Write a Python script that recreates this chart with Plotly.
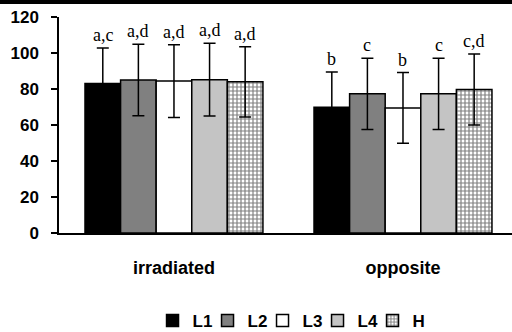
import plotly.graph_objects as go

categories = ["irradiated", "opposite"]
series_names = ["L1", "L2", "L3", "L4", "H"]
means = {
    "L1": [83.0, 69.8],
    "L2": [85.0, 77.3],
    "L3": [84.4, 69.5],
    "L4": [85.2, 77.3],
    "H":  [84.0, 79.7],
}
sds = {
    "L1": [19.8, 19.7],
    "L2": [19.8, 19.8],
    "L3": [20.2, 19.6],
    "L4": [20.2, 19.8],
    "H":  [19.5, 19.7],
}
sig_labels = {
    "L1": ["a,c", "b"],
    "L2": ["a,d", "c"],
    "L3": ["a,d", "b"],
    "L4": ["a,d", "c"],
    "H":  ["a,d", "c,d"],
}
y_ticks = [0, 20, 40, 60, 80, 100, 120]

colors = {"L1": "#000000", "L2": "#808080", "L3": "#ffffff", "L4": "#c4c4c4", "H": "#ffffff"}

fig = go.Figure()
for name in series_names:
    marker = dict(color=colors[name], line=dict(color="black", width=1.5))
    if name == "H":
        marker["pattern"] = dict(shape="+", fgcolor="black", bgcolor="white", size=4, solidity=0.5)
    fig.add_trace(go.Bar(
        name=name, x=[0, 1], y=means[name],
        marker=marker,
        error_y=dict(type="data", array=sds[name], color="black", thickness=1.5, width=6),
    ))

bargap = 0.223
n = len(series_names)
bw = (1 - bargap) / n
for i, name in enumerate(series_names):
    for c in range(len(categories)):
        fig.add_annotation(
            x=c + (i - (n - 1) / 2) * bw, y=means[name][c] + sds[name][c],
            xref="x", yref="y", text=sig_labels[name][c], showarrow=False,
            yanchor="bottom", yshift=1,
            font=dict(family="Liberation Serif", size=18, color="black"),
        )

fig.add_shape(type="rect", xref="paper", yref="paper", x0=-0.2, x1=1.05,
              y0=1.060, y1=1.10, fillcolor="black", line=dict(width=0))

fig.update_layout(
    width=512, height=332,
    margin=dict(l=59, r=0, t=17, b=99, autoexpand=False),
    paper_bgcolor="white", plot_bgcolor="white",
    barmode="group", bargap=bargap, bargroupgap=0,
    showlegend=True,
    legend=dict(orientation="h", x=0.51, xanchor="center", y=-0.407, yanchor="middle",
                font=dict(family="Liberation Sans", size=17, color="black", weight="bold"),
                itemwidth=30, entrywidth=10, entrywidthmode="pixels", traceorder="normal"),
    xaxis=dict(range=[-0.502, 1.476], tickmode="array", tickvals=[0, 1], ticktext=categories,
               showline=True, linecolor="black", linewidth=1.5, ticks="", showgrid=False,
               zeroline=False, ticklabelstandoff=18,
               tickfont=dict(family="Liberation Sans", size=18, color="black", weight="bold")),
    yaxis=dict(range=[0, 120], tickmode="array", tickvals=y_ticks,
               showline=True, linecolor="black", linewidth=1.5, ticks="outside", ticklen=6,
               tickwidth=1.5, tickcolor="black", showgrid=False, zeroline=False,
               ticklabelstandoff=9,
               tickfont=dict(family="Liberation Sans", size=17, color="black", weight="bold")),
)

fig.write_html("out.html")
